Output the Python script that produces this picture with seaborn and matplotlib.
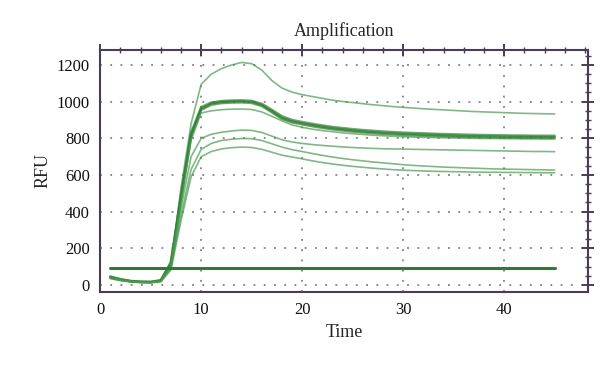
import numpy as np
import pandas as pd
import matplotlib
matplotlib.use("Agg")
import matplotlib.pyplot as plt
from matplotlib.ticker import MultipleLocator
import seaborn as sns

sns.set_style("white")
plt.rcParams['font.family'] = ['Liberation Serif', 'DejaVu Serif']

# cycles 1..45
cycles = list(range(1, 46))

# RFU per cycle
top = [40, 28, 20, 16, 15, 22, 110, 530, 880, 1095, 1150, 1180, 1200, 1214, 1207,
       1172, 1115, 1074, 1052, 1038, 1028, 1018, 1008, 1001, 995, 989, 983, 978, 973, 969,
       965, 961, 958, 955, 952, 949, 946, 944, 942, 940, 938, 936, 935, 934, 933]
thick_a = [46, 31, 22, 18, 17, 26, 125, 490, 830, 970, 995, 1003, 1006, 1007, 1004,
           988, 955, 920, 900, 889, 879, 870, 862, 856, 850, 845, 841, 837, 834, 831,
           829, 827, 825, 823, 822, 820, 819, 818, 817, 816, 815, 815, 814, 814, 814]
thick_b = [44, 30, 21, 17, 16, 24, 118, 480, 820, 962, 990, 998, 1001, 1002, 999,
           982, 948, 912, 893, 882, 872, 863, 855, 849, 843, 838, 834, 830, 827, 824,
           822, 820, 818, 816, 815, 813, 812, 811, 810, 809, 809, 808, 808, 807, 807]
thick_c = [42, 29, 20, 16, 15, 23, 112, 470, 810, 955, 983, 992, 995, 996, 993,
           976, 942, 906, 887, 876, 866, 857, 849, 843, 837, 832, 828, 824, 821, 818,
           816, 814, 812, 810, 809, 807, 806, 805, 804, 803, 803, 802, 802, 801, 801]
mid = [40, 28, 20, 16, 15, 22, 105, 450, 790, 938, 950, 956, 959, 960, 957,
       944, 920, 895, 873, 860, 850, 842, 836, 830, 825, 821, 817, 814, 811, 809,
       807, 805, 804, 803, 802, 801, 800, 799, 799, 798, 798, 797, 797, 797, 797]
low_a = [38, 26, 19, 15, 14, 20, 95, 420, 700, 800, 822, 833, 840, 845, 843,
         832, 812, 792, 780, 772, 766, 761, 757, 753, 750, 747, 745, 743, 742, 741,
         740, 739, 738, 737, 736, 735, 734, 733, 732, 731, 730, 729, 728, 728, 727]
low_b = [36, 25, 18, 14, 13, 19, 88, 380, 630, 740, 772, 788, 795, 799, 798,
         788, 770, 752, 738, 728, 717, 707, 698, 690, 683, 677, 671, 666, 661, 656,
         652, 649, 646, 643, 641, 639, 637, 635, 633, 632, 631, 630, 629, 628, 627]
low_c = [35, 24, 17, 13, 12, 18, 82, 350, 590, 700, 728, 742, 749, 752, 750,
         740, 724, 708, 698, 688, 677, 668, 660, 653, 647, 642, 637, 633, 629, 626,
         624, 622, 620, 619, 618, 617, 616, 615, 615, 614, 614, 613, 613, 612, 612]
threshold = 92

curves = {"top": top, "a": thick_a, "b": thick_b, "c": thick_c,
          "mid": mid, "low_a": low_a, "low_b": low_b, "low_c": low_c}

fig = plt.figure(figsize=(6, 3.7), dpi=100)
ax = fig.add_axes([0.167, 0.211, 0.813, 0.654])

for name, vals in curves.items():
    df = pd.DataFrame({"Time": cycles, "RFU": vals})
    thick = name in ("a", "b", "c")
    sns.lineplot(data=df, x="Time", y="RFU", ax=ax,
                 color="#2f7f34" if thick else "#4a9a4f",
                 linewidth=1.8 if thick else 1.2, alpha=0.7)

df_t = pd.DataFrame({"Time": [cycles[0], cycles[-1]], "RFU": [threshold, threshold]})
sns.lineplot(data=df_t, x="Time", y="RFU", ax=ax, color="#2e7a36", linewidth=2.2)

spine_col = "#4b3b5b"
ax.set_xlim(0, 48.3)
ax.set_ylim(-38, 1282)
ax.xaxis.set_major_locator(MultipleLocator(10))
ax.xaxis.set_minor_locator(MultipleLocator(2))
ax.yaxis.set_major_locator(MultipleLocator(200))
ax.yaxis.set_minor_locator(MultipleLocator(50))
ax.grid(True, which="major", linestyle=(0, (1.2, 5.5)), color="#6f6676", linewidth=1.1)
for s in ax.spines.values():
    s.set_color(spine_col)
    s.set_linewidth(1.5)
ax.tick_params(which="both", direction="inout", top=True, right=True,
               color=spine_col, labelsize=12, labelcolor="#111111")
ax.tick_params(which="major", length=8, width=1.4)
ax.tick_params(which="minor", length=5, width=1.0)

ax.set_title("Amplification", fontsize=13, pad=10)
ax.set_xlabel("Time", fontsize=13)
ax.set_ylabel("RFU", fontsize=13)

fig.savefig("out.png", dpi=100)
